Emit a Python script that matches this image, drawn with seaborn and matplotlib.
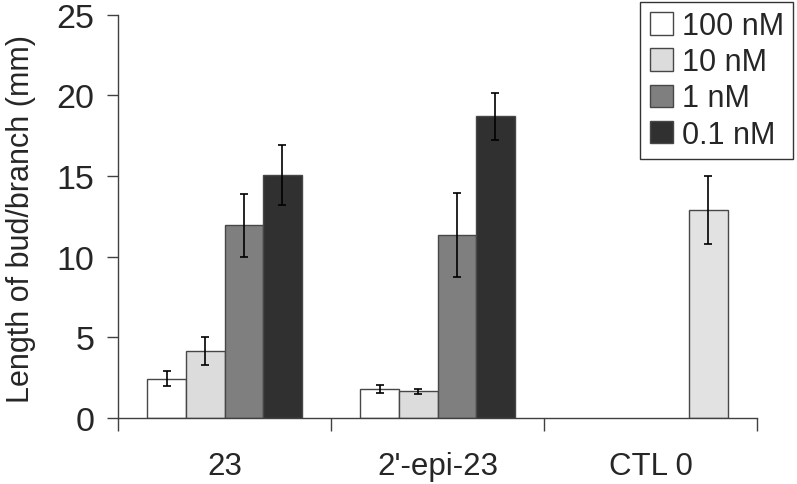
import matplotlib
matplotlib.use("Agg")
import matplotlib.pyplot as plt
import seaborn as sns
import pandas as pd
import numpy as np

groups = ["23", "2'-epi-23", "CTL 0"]
concs = ["100 nM", "10 nM", "1 nM", "0.1 nM"]
# values per group, in concs order (None = no bar)
vals_23 = [2.43, 4.15, 11.95, 15.07]
errs_23 = [0.47, 0.89, 1.95, 1.87]
vals_epi = [1.78, 1.65, 11.35, 18.70]
errs_epi = [0.25, 0.14, 2.58, 1.45]
vals_ctl = [None, None, None, 12.90]
errs_ctl = [None, None, None, 2.10]
colors = ["#ffffff", "#dcdcdc", "#7f7f7f", "#303030"]
ctl_color = "#e2e2e2"

rows = []
for g, vs, es in zip(groups, [vals_23, vals_epi, vals_ctl], [errs_23, errs_epi, errs_ctl]):
    for c, v, e in zip(concs, vs, es):
        if v is not None:
            rows.append({"group": g, "conc": c, "value": v, "err": e})
df = pd.DataFrame(rows)

sns.set_style("white")
plt.rcParams['font.family'] = ['Liberation Sans', 'DejaVu Sans']

fig = plt.figure(figsize=(7.97, 4.85), dpi=100)
ax = fig.add_axes([118/797, 1-419/485, (757-118)/797, (419-15.7)/485])

BW = 0.725
sns.barplot(data=df, x="group", y="value", hue="conc", order=groups, hue_order=concs,
            palette=colors, edgecolor="#474747", linewidth=1.0, width=BW,
            errorbar=None, ax=ax, legend=True)

# error bars, positions from the library's bars
for bar in list(ax.patches):
    h = bar.get_height()
    if h is None or np.isnan(h) or h == 0:
        continue
    w = bar.get_width()
    xc = bar.get_x() + w / 2
    gi = int(round(xc))
    if gi < 0 or gi >= len(groups):
        continue
    slot = int(round((xc - gi + BW / 2 - w / 2) / w))
    g = groups[gi]
    c = concs[slot]
    sub = df[(df.group == g) & (df.conc == c)]
    if len(sub) == 0:
        continue
    e = sub.err.values[0]
    ax.errorbar(xc, h, yerr=e, fmt="none", ecolor="black", elinewidth=1.2,
                capsize=3.2, capthick=1.2, zorder=5)
    if g == "CTL 0":
        bar.set_facecolor(ctl_color)

ax.set_ylim(0, 25)
ax.set_xlim(-0.5, 2.5)
ax.set_yticks([0, 5, 10, 15, 20, 25])
ax.tick_params(axis="y", which="major", direction="out", length=8, width=1,
               color="#404040", labelsize=24.5, pad=9, left=True)
ax.set_xticks([-0.5, 0.5, 1.5, 2.5])
ax.set_xticklabels([])
ax.set_xticks([0, 1, 2], minor=True)
ax.set_xticklabels(groups, minor=True)
ax.tick_params(axis="x", which="major", direction="out", length=9, width=1,
               color="#404040", bottom=True)
ax.tick_params(axis="x", which="minor", length=0, labelsize=22.5, pad=24)

for s in ["top", "right"]:
    ax.spines[s].set_visible(False)
for s in ["left", "bottom"]:
    ax.spines[s].set_color("#404040")
    ax.spines[s].set_linewidth(1.0)

ax.set_xlabel("")
ax.set_ylabel("Length of bud/branch (mm)", fontsize=22)
ax.yaxis.set_label_coords(-0.128, 0.497)

h, l = ax.get_legend_handles_labels()
if ax.get_legend() is not None:
    ax.get_legend().remove()
leg = fig.legend(h, l, loc="upper right", bbox_to_anchor=(793/797, 1-3/485),
                 bbox_transform=fig.transFigure, frameon=True, fancybox=False,
                 fontsize=22, handlelength=0.75, handleheight=0.75, labelspacing=0.2,
                 handletextpad=0.3, borderpad=0.3, borderaxespad=0)
leg.get_frame().set_edgecolor("black")
leg.get_frame().set_linewidth(1.0)

fig.savefig("out.png", dpi=100)
